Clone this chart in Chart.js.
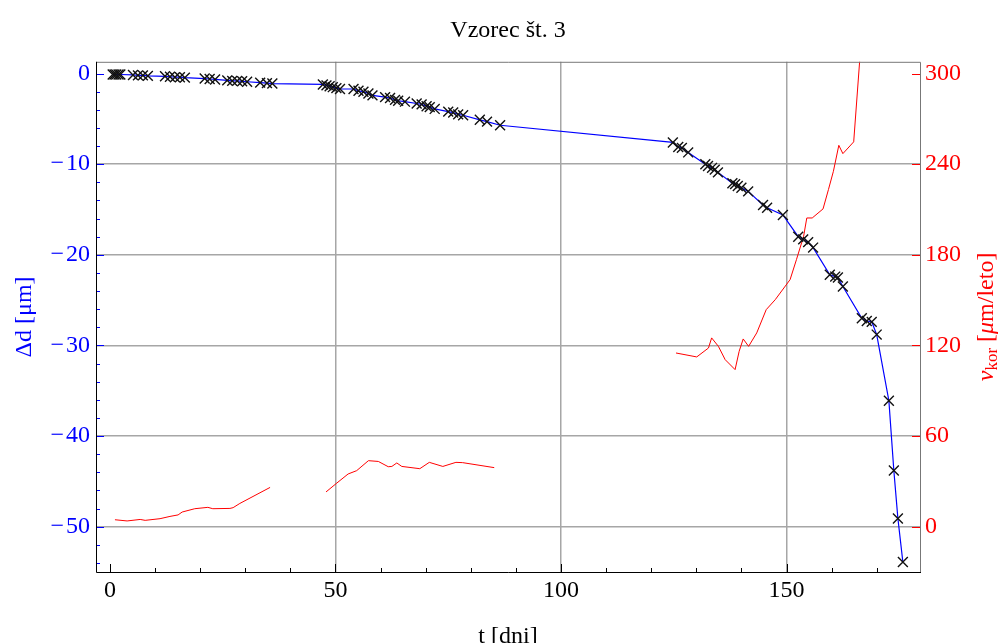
<!DOCTYPE html>
<html>
<head>
<meta charset="utf-8">
<title>Vzorec št. 3</title>
<script src="https://cdn.jsdelivr.net/npm/chart.js@4.4.1/dist/chart.umd.min.js"></script>
<style>
  html, body { margin: 0; padding: 0; background: #fff; }
  #chart { display: block; }
</style>
</head>
<body>
<canvas id="chart" width="1001" height="643"></canvas>
<script>
// Measured thickness loss (left axis, µm) vs. time in days
const blueT = [
    0.6, 1.0, 1.4, 1.9, 2.3, 5.1, 6.2, 7.3, 8.4, 12.2, 13.3, 14.4, 15.5, 16.6,
    21.0, 22.1, 23.3, 26.0, 27.1, 28.2, 29.3, 30.4, 33.3, 34.8, 36.0,
    47.2, 48.0, 48.7, 49.4, 50.2, 51.0, 54.0, 55.1, 56.2, 57.3, 58.2,
    61.0, 62.1, 63.2, 63.9, 65.4, 68.0, 69.1, 70.2, 70.9, 72.0,
    75.0, 76.1, 77.2, 78.3, 82.0, 83.6, 86.5,
    124.8, 126.0, 126.8, 128.2, 132.0, 132.6, 133.5, 134.1, 134.8,
    138.0, 138.6, 139.2, 140.0, 141.5, 144.8, 145.7, 149.2,
    152.6, 153.7, 154.8, 155.9, 159.6, 160.8, 161.4, 162.5,
    166.7, 167.8, 168.9, 170.0, 172.7, 173.8, 174.7, 175.8
];
const blueD = [
    -0.1, -0.1, -0.1, -0.1, -0.1, -0.15, -0.2, -0.2, -0.25, -0.3, -0.35, -0.4, -0.4, -0.45,
    -0.55, -0.6, -0.65, -0.75, -0.8, -0.8, -0.85, -0.9, -1.0, -1.05, -1.1,
    -1.2, -1.3, -1.4, -1.5, -1.6, -1.7, -1.7, -1.9, -2.0, -2.2, -2.4,
    -2.6, -2.7, -2.9, -3.0, -3.1, -3.3, -3.4, -3.6, -3.7, -3.9,
    -4.2, -4.3, -4.5, -4.6, -5.1, -5.3, -5.7,
    -7.6, -8.1, -8.2, -8.7, -10.0, -10.2, -10.4, -10.6, -10.9,
    -12.1, -12.2, -12.4, -12.6, -13.0, -14.5, -14.8, -15.6,
    -18.0, -18.3, -18.6, -19.2, -22.2, -22.4, -22.5, -23.5,
    -27.0, -27.3, -27.4, -28.8, -36.1, -43.8, -49.1, -53.9
];

// Corrosion rate (right axis, µm/leto), three separate pieces
const redT1 = [1.1, 3.8, 6.7, 7.8, 11.1, 13.3, 15.1, 16.0, 18.8, 21.7, 22.8, 26.6, 27.3, 28.8, 35.5];
const redV1 = [4.6, 3.8, 4.8, 4.2, 5.3, 6.8, 7.8, 9.7, 11.9, 12.8, 11.9, 12.1, 12.6, 15.4, 26.0];
const redT2 = [47.9, 50.3, 52.8, 54.7, 57.3, 59.5, 61.7, 62.5, 63.6, 64.7, 68.7, 70.8, 73.8, 76.7, 78.2, 85.2];
const redV2 = [23.0, 28.9, 34.9, 37.1, 43.7, 43.2, 39.7, 39.9, 42.2, 39.9, 38.4, 42.6, 39.9, 42.6, 42.4, 39.1];
const redT3 = [125.5, 130.1, 132.7, 133.4, 134.9, 136.4, 138.6, 139.5, 140.4, 141.6, 143.4, 145.5, 147.5,
    150.8, 152.2, 153.8, 154.5, 155.7, 158.1, 159.3, 160.4, 161.6, 162.5, 164.9, 167.5];
const redV3 = [115.0, 112.4, 118.3, 125.0, 119.4, 110.6, 104.0, 116.1, 124.3, 119.4, 128.3, 143.7, 150.3,
    163.6, 176.8, 192.3, 204.4, 204.4, 210.4, 223.2, 235.3, 252.5, 247.0, 254.8, 360];

// Tick labels
const xTicks = [0, 50, 100, 150];
const yTicks = [0, -10, -20, -30, -40, -50];
const y2Ticks = [0, 60, 120, 180, 240, 300];

const FONT = 'Liberation Serif';
const BLUE = '#0000ff';
const RED = '#ff0000';
const GRID = '#a6a6a6';

function toPoints(xs, ys) {
    return xs.map((x, i) => ({ x: x, y: ys[i] }));
}

function fmt(v) {
    return v < 0 ? '\u2212\u200a' + Math.abs(v) : String(v);
}

// Frame, inward ticks (Mathematica style) and the right axis label with subscript
const framePlugin = {
    id: 'frame',
    afterDraw(chart) {
        const { ctx, chartArea: a, scales } = chart;
        ctx.save();
        ctx.lineWidth = 1;

        // left ticks, minor every 2
        ctx.strokeStyle = BLUE;
        for (let v = -54; v <= 0; v += 2) {
            const y = Math.round(scales.y.getPixelForValue(v)) + 0.5;
            const len = v % 10 === 0 ? 8 : 4;
            ctx.beginPath();
            ctx.moveTo(a.left, y);
            ctx.lineTo(a.left + len, y);
            ctx.stroke();
        }
        // right ticks
        ctx.strokeStyle = RED;
        y2Ticks.forEach(v => {
            const y = Math.round(scales.y2.getPixelForValue(v)) + 0.5;
            ctx.beginPath();
            ctx.moveTo(a.right - 8, y);
            ctx.lineTo(a.right, y);
            ctx.stroke();
        });
        // bottom ticks every 10 days
        ctx.strokeStyle = '#000';
        for (let t = 0; t <= 170; t += 10) {
            const x = Math.round(scales.x.getPixelForValue(t)) + 0.5;
            const len = t % 50 === 0 ? 8 : 4;
            ctx.beginPath();
            ctx.moveTo(x, a.bottom);
            ctx.lineTo(x, a.bottom - len);
            ctx.stroke();
        }

        // frame
        ctx.strokeStyle = '#777';
        ctx.beginPath();
        ctx.moveTo(a.left, a.top + 0.5);
        ctx.lineTo(a.right + 0.5, a.top + 0.5);
        ctx.lineTo(a.right + 0.5, a.bottom);
        ctx.stroke();
        ctx.strokeStyle = '#000';
        ctx.beginPath();
        ctx.moveTo(a.left + 0.5, a.top);
        ctx.lineTo(a.left + 0.5, a.bottom + 0.5);
        ctx.lineTo(a.right + 1, a.bottom + 0.5);
        ctx.stroke();

        // right axis title: v_kor [µm/leto]
        ctx.fillStyle = RED;
        ctx.textBaseline = 'middle';
        const big = '24px "' + FONT + '"';
        const bigIt = 'italic 24px "' + FONT + '"';
        const small = '17px "' + FONT + '"';
        const parts = [
            { t: 'v', f: bigIt, dy: 0 },
            { t: 'kor', f: small, dy: 6 },
            { t: ' [', f: big, dy: 0 },
            { t: '\u03bc', f: bigIt, dy: 0 },
            { t: 'm/leto]', f: big, dy: 0 }
        ];
        let total = 0;
        parts.forEach(p => { ctx.font = p.f; p.w = ctx.measureText(p.t).width; total += p.w; });
        ctx.translate(987, (a.top + a.bottom) / 2);
        ctx.rotate(-Math.PI / 2);
        let cx = -total / 2;
        parts.forEach(p => {
            ctx.font = p.f;
            ctx.textAlign = 'left';
            ctx.fillText(p.t, cx, p.dy);
            cx += p.w;
        });
        ctx.restore();
    }
};

new Chart(document.getElementById('chart'), {
    type: 'line',
    data: {
        datasets: [
            {
                label: 'Δd',
                data: toPoints(blueT, blueD),
                yAxisID: 'y',
                borderColor: BLUE,
                borderWidth: 1.2,
                pointStyle: 'crossRot',
                pointRadius: 7,
                pointBorderColor: '#111',
                pointBorderWidth: 1.4,
                pointBackgroundColor: 'rgba(0,0,0,0)',
                order: 0
            },
            {
                label: 'v1',
                data: toPoints(redT1, redV1),
                yAxisID: 'y2',
                borderColor: RED,
                borderWidth: 1,
                pointRadius: 0,
                order: 1
            },
            {
                label: 'v2',
                data: toPoints(redT2, redV2),
                yAxisID: 'y2',
                borderColor: RED,
                borderWidth: 1,
                pointRadius: 0,
                order: 1
            },
            {
                label: 'v3',
                data: toPoints(redT3, redV3),
                yAxisID: 'y2',
                borderColor: RED,
                borderWidth: 1,
                pointRadius: 0,
                order: 1
            }
        ]
    },
    options: {
        responsive: false,
        animation: false,
        events: [],
        layout: { padding: 0 },
        plugins: {
            legend: { display: false },
            tooltip: { enabled: false },
            title: {
                display: true,
                fullSize: false,
                text: 'Vzorec št. 3',
                color: '#000',
                font: { family: FONT, size: 24, weight: 'normal' },
                padding: { top: 16, bottom: 17 }
            }
        },
        scales: {
            x: {
                type: 'linear',
                position: 'bottom',
                min: -3.1,
                max: 179.6,
                afterBuildTicks: s => { s.ticks = xTicks.map(v => ({ value: v })); },
                afterFit: s => { s.height = 71; },
                ticks: {
                    color: '#000',
                    padding: 4,
                    maxRotation: 0,
                    font: { family: FONT, size: 24 },
                    callback: v => fmt(v)
                },
                grid: {
                    drawTicks: false,
                    lineWidth: 1.5,
                    color: c => (c.tick && c.tick.value === 0 ? 'rgba(0,0,0,0)' : GRID)
                },
                border: { display: false },
                title: {
                    display: true,
                    text: 't [dni]',
                    color: '#000',
                    font: { family: FONT, size: 24 },
                    padding: { top: 0, bottom: -8 }
                }
            },
            y: {
                type: 'linear',
                position: 'left',
                min: -55,
                max: 1.3,
                afterBuildTicks: s => { s.ticks = yTicks.map(v => ({ value: v })); },
                afterFit: s => { s.width = 96; },
                ticks: {
                    color: BLUE,
                    padding: 6,
                    font: { family: FONT, size: 24 },
                    callback: v => fmt(v)
                },
                grid: {
                    drawTicks: false,
                    lineWidth: 1.5,
                    color: c => (c.tick && c.tick.value === 0 ? 'rgba(0,0,0,0)' : GRID)
                },
                border: { display: false },
                title: {
                    display: true,
                    text: 'Δd [μm]',
                    color: BLUE,
                    font: { family: FONT, size: 24 },
                    padding: { top: 10, bottom: 0 }
                }
            },
            y2: {
                type: 'linear',
                position: 'right',
                min: -30,
                max: 307.8,
                afterBuildTicks: s => { s.ticks = y2Ticks.map(v => ({ value: v })); },
                afterFit: s => { s.width = 81; },
                ticks: {
                    color: RED,
                    padding: 5,
                    font: { family: FONT, size: 24 },
                    callback: v => fmt(v)
                },
                grid: { display: false, drawTicks: false },
                border: { display: false }
            }
        }
    },
    plugins: [framePlugin]
});
</script>
</body>
</html>
